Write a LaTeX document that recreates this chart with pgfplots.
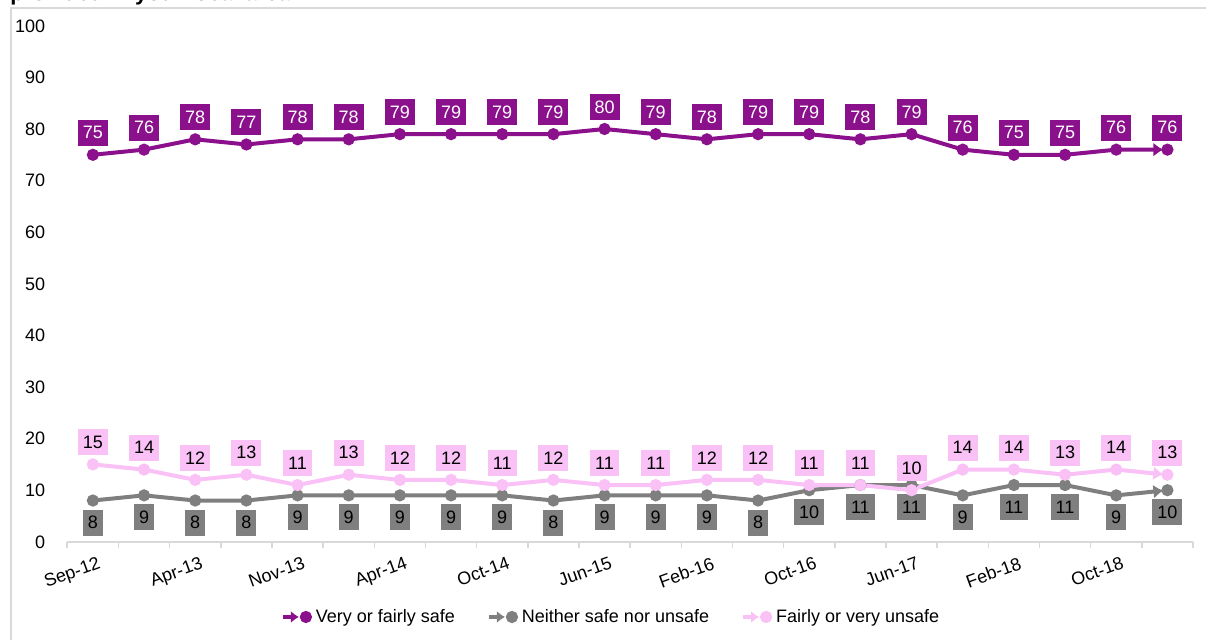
\documentclass[border=0pt]{standalone}
\usepackage{fontspec}
\setmainfont{Liberation Sans}
\usepackage{pgfplots}
\usepackage{pgfplotstable}
\pgfplotsset{compat=1.18}
\usetikzlibrary{arrows.meta}

\definecolor{safe}{HTML}{8B108B}
\definecolor{neither}{HTML}{7F7F7F}
\definecolor{unsafe}{HTML}{F9C1F5}
\definecolor{framegray}{HTML}{D9D9D9}

% Survey waves: share of respondents per answer (%)
\pgfplotstableread{
x  safe neither unsafe
0  75   8   15
1  76   9   14
2  78   8   12
3  77   8   13
4  78   9   11
5  78   9   13
6  79   9   12
7  79   9   12
8  79   9   11
9  79   8   12
10 80   9   11
11 79   9   11
12 78   9   12
13 79   8   12
14 79   10  11
15 78   11  11
16 79   11  10
17 76   9   14
18 75   11  14
19 75   11  13
20 76   9   14
21 76   10  13
}\survey

\begin{document}
\begin{tikzpicture}
% outer chart frame
\draw[framegray, line width=0.8pt] (5.5pt,-5pt) -- (5.5pt,315.5pt) -- (610pt,315.5pt);
\node[anchor=base west, font=\bfseries\fontsize{11}{13}\selectfont, inner sep=0pt] at (5pt,319.2pt) {provided in your local area?};
\begin{axis}[
  at={(33.65pt,48.6pt)}, anchor=south west, scale only axis,
  width=562.85pt, height=258pt,
  xmin=-0.5, xmax=21.5, ymin=0, ymax=100,
  clip=false,
  axis x line*=bottom, axis y line*=left,
  x axis line style={draw=framegray, line width=0.8pt, -},
  y axis line style={draw=none},
  ytick={0,10,...,100},
  ytick style={draw=none},
  yticklabel style={anchor=east, xshift=-4.5pt},
  xtick={-0.5,0.5,...,21.5},
  xticklabels={},
  xtick style={draw=framegray, line width=0.8pt},
  tick align=outside, major tick length=3pt,
  extra x ticks={0,2,...,20},
  extra x tick labels={Sep-12,Apr-13,Nov-13,Apr-14,Oct-14,Jun-15,Feb-16,Oct-16,Jun-17,Feb-18,Oct-18},
  extra x tick style={major tick length=0pt,
    xticklabel style={rotate=20, anchor=north east, yshift=-4pt, xshift=3pt}},
  tick label style={font=\fontsize{9}{11}\selectfont},
  /pgf/number format/assume math mode=true,
  nodes near coords={\pgfmathprintnumber[assume math mode=true]{\pgfplotspointmeta}},
  legend columns=3,
  legend style={draw=none, at={(0.4839,-0.1457)}, anchor=center,
    font=\fontsize{9}{11}\selectfont,
    /tikz/every even column/.append style={column sep=14pt}},
]
\addplot[safe, line width=2pt, mark=*, mark size=2pt, mark options={/tikz/arrows=-},
  shorten >=2pt, -{Latex[length=5pt,width=7pt]},
  every node near coord/.style={fill=safe, text=white, font=\fontsize{9}{11}\selectfont,
    inner xsep=2.5pt, inner ysep=0pt, minimum height=13pt, anchor=center, yshift=11pt},
  legend image code/.code={
    \draw[safe, line width=2pt, -{Latex[length=4pt,width=6pt]}] (0pt,0pt) -- (10pt,0pt);
    \fill[safe] (11.5pt,0pt) circle (2pt);}]
  table[x=x, y=safe] {\survey};
\addlegendentry{Very or fairly safe}
\addplot[neither, line width=2pt, mark=*, mark size=2pt, mark options={/tikz/arrows=-},
  shorten >=2pt, -{Latex[length=5pt,width=7pt]},
  every node near coord/.style={fill=neither, text=black, font=\fontsize{9}{11}\selectfont,
    inner xsep=2.5pt, inner ysep=0pt, minimum height=13pt, anchor=center, yshift=-11pt},
  legend image code/.code={
    \draw[neither, line width=2pt, -{Latex[length=4pt,width=6pt]}] (0pt,0pt) -- (10pt,0pt);
    \fill[neither] (11.5pt,0pt) circle (2pt);}]
  table[x=x, y=neither] {\survey};
\addlegendentry{Neither safe nor unsafe}
\addplot[unsafe, line width=2pt, mark=*, mark size=2pt, mark options={/tikz/arrows=-},
  shorten >=2pt, -{Latex[length=5pt,width=7pt]},
  every node near coord/.style={fill=unsafe, text=black, font=\fontsize{9}{11}\selectfont,
    inner xsep=2.5pt, inner ysep=0pt, minimum height=13pt, anchor=center, yshift=11pt},
  legend image code/.code={
    \draw[unsafe, line width=2pt, -{Latex[length=4pt,width=6pt]}] (0pt,0pt) -- (10pt,0pt);
    \fill[unsafe] (11.5pt,0pt) circle (2pt);}]
  table[x=x, y=unsafe] {\survey};
\addlegendentry{Fairly or very unsafe}
\end{axis}
\pgfresetboundingbox
\path[use as bounding box] (0pt,0pt) rectangle (603pt,319.5pt);
\end{tikzpicture}
\end{document}
